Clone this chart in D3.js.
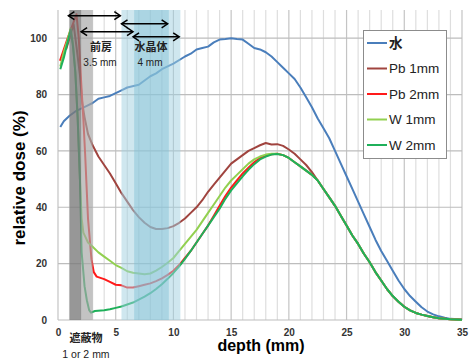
<!DOCTYPE html>
<html>
<head>
<meta charset="utf-8">
<script src="https://cdn.jsdelivr.net/npm/d3@7"></script>
<style>
  body { margin: 0; background: #fff; }
  svg text { font-family: "Liberation Sans", "Noto Sans CJK JP", sans-serif; }
</style>
</head>
<body>
<div id="chart"></div>
<script>
// depth (mm) / relative dose (%) pairs
const water = [
  [0.2,68.5],[0.5,70.5],[1,72.5],[1.5,74],[2,75],[2.5,76],[3,77],[3.5,78.5],[4,79],[4.5,79.5],
  [5,80.5],[5.5,81.5],[6,82.5],[7,83.5],[7.5,85],[8,86.5],[8.5,87.5],[9,89],[10,91],[11,93.5],
  [11.5,94.5],[12,96],[12.5,96.5],[13,97],[13.5,98.5],[14,99.5],[14.5,99.7],[15,100],[15.5,99.7],
  [16,99.5],[16.5,98],[17,96.5],[17.5,96],[18,95],[18.5,93.5],[19,91.5],[19.5,89.5],[20,87.5],
  [20.5,85.5],[21,82.5],[21.5,79],[22,75.5],[22.5,71.5],[23,68],[23.5,64.5],[24,60],[24.5,55.5],
  [25,51],[25.5,46.5],[26,42],[26.5,37.5],[27,33],[27.5,28.5],[28,24.5],[28.5,21],[29,17.5],
  [29.5,14],[30,11],[30.5,8.5],[31,6.5],[31.5,4.5],[32,3],[32.5,2],[33,1.3],[33.5,0.8],[34,0.4],[35,0.2]
];
// common fall-off of the four shielded curves beyond the peak
const tail = [
  [22.5,49.5],[23,46.5],[23.5,43.5],[24,40.5],[24.5,37],[25,33.5],[25.5,30],[26,27],[26.5,23.5],
  [27,20.5],[27.5,17],[28,14],[28.5,11],[29,8.5],[29.5,6.5],[30,4.7],[30.5,3.4],[31,2.5],
  [31.5,1.9],[32,1.4],[32.5,1],[33,0.6],[34,0.25],[35,0.1]
];
const pb1 = [
  [0.7,96],[1,100],[1.35,105],[1.6,97],[1.9,87],[2.1,77],[2.3,72],[2.6,66],[3,62],[3.5,58],[4,55],
  [4.5,52],[5,48.5],[5.5,45],[6,42],[6.5,39],[7,36.5],[7.5,34.5],[8,33],[8.5,32.3],[9,32.3],
  [9.5,32.6],[10,33.3],[10.5,34.5],[11,36],[11.5,38],[12,40],[12.5,42.5],[13,45.5],[13.5,48],
  [14,50.5],[14.5,53],[15,55.5],[15.5,57],[16,58.5],[16.5,60],[17,61],[17.5,62],[18,62.8],
  [18.5,62.3],[19,62.4],[19.5,61.8],[20,60.5],[20.5,59],[21,57],[21.5,55],[22,52.5]
].concat(tail);
const pb2 = [
  [0.17,92],[0.5,96],[0.84,100],[1.2,104],[1.6,108.5],[1.8,100],[2,85],[2.2,71],[2.35,59],
  [2.6,36],[2.9,21.5],[3.1,17],[3.35,15.4],[4,14.5],[4.5,13.5],[5,12.5],[5.5,12.3],[6,11.5],
  [6.5,11.5],[7,12],[7.5,12.5],[8,13],[8.5,13.8],[9,14.8],[9.5,16],[10,17.5],[10.5,19.5],[11,22],
  [11.5,24.5],[12,27.5],[12.5,30.5],[13,33.5],[13.5,37],[14,40.5],[14.5,44],[15,47],[15.5,49.5],
  [16,52],[16.5,54],[17,56],[17.5,57.5],[18,58.3],[18.5,58.8],[19,59],[19.5,58.5],[20,57.5],
  [20.5,56],[21,54.5],[21.5,53],[22,51.5]
].concat(tail);
const w1 = [
  [0.2,90],[0.5,95],[0.8,99],[1.1,103.5],[1.3,98],[1.5,88],[1.7,72],[1.9,50],[2.05,36],[2.2,31],
  [2.6,27.5],[3,26],[3.5,24],[4,22.5],[4.5,21],[5,19.5],[5.5,18.5],[6,17.3],[6.5,16.8],[7,16.5],
  [7.5,16.2],[8,16.5],[8.5,17.5],[9,18.8],[9.5,20.3],[10,22],[10.5,24.5],[11,27],[11.5,29.5],
  [12,32],[12.5,35],[13,38],[13.5,41],[14,44],[14.5,47],[15,49.5],[15.5,51.5],[16,53.5],
  [16.5,55.5],[17,57],[17.5,58],[18,58.7],[18.5,59],[19,59],[19.5,58.5],[20,57.5],[20.5,56],
  [21,54.5],[21.5,53],[22,51.5]
].concat(tail);
const w2 = [
  [0.2,89],[0.5,93],[0.8,98],[1.1,103],[1.3,97],[1.5,88],[1.7,72],[1.9,50],[2.05,24],[2.3,12],
  [2.5,7],[2.7,3.5],[2.86,2.6],[3.2,3.2],[4,3.5],[4.5,3.8],[5,4.3],[5.5,4.8],[6,5.5],[6.5,6.2],
  [7,7.2],[7.5,8.3],[8,9.5],[8.5,11],[9,12.7],[9.5,14.6],[10,16.7],[10.5,19],[11,21.7],[11.5,24.5],
  [12,27.5],[12.5,30.5],[13,33.5],[13.5,36.5],[14,39.5],[14.5,43],[15,46],[15.5,48.5],[16,51],
  [16.5,53.3],[17,55.3],[17.5,57],[18,58],[18.5,58.7],[19,58.9],[19.5,58.5],[20,57.5],[20.5,56],
  [21,54.5],[21.5,53],[22,51.5]
].concat(tail);

const seriesNames  = ["水", "Pb 1mm", "Pb 2mm", "W 1mm", "W 2mm"];
const seriesData   = [water, pb1, pb2, w1, w2];
const seriesColors = ["#4a7ebb", "#a0443f", "#ff1a1a", "#92d050", "#1fb05a"];

const xTicks = [0, 5, 10, 15, 20, 25, 30, 35];
const yTicks = [0, 20, 40, 60, 80, 100];

// shaded depth ranges (mm)
const shieldDark  = [1, 2];
const shieldLight = [2, 3];
const lensOuter   = [5.5, 10.6];
const lensInner   = [6.6, 9.6];
// thickness arrows: [from mm, to mm, dose level]
const arrows = [[0.9, 5.4, 108], [2, 6.5, 102.3], [5.5, 9.5, 105.1], [6.5, 10.5, 100.5]];

const WIDTH = 469, HEIGHT = 360;
const MARGIN = { top: 10, right: 7, bottom: 40, left: 58 };

const svg = d3.select("#chart").append("svg")
  .attr("width", WIDTH)
  .attr("height", HEIGHT);

const x = d3.scaleLinear().domain([0, 35]).range([MARGIN.left, WIDTH - MARGIN.right]);
const y = d3.scaleLinear().domain([0, 110]).range([HEIGHT - MARGIN.bottom, MARGIN.top]);

// vertical grid, every mm
svg.append("g")
  .selectAll("line")
  .data(d3.range(0, 36))
  .join("line")
  .attr("x1", d => x(d)).attr("x2", d => x(d))
  .attr("y1", y(0)).attr("y2", y(110))
  .attr("stroke", d => d % 5 === 0 ? "#c4c4c4" : "#dedede")
  .attr("stroke-width", 1.2);

// horizontal grid
svg.append("g")
  .selectAll("line")
  .data(yTicks)
  .join("line")
  .attr("x1", x(0)).attr("x2", x(35))
  .attr("y1", d => y(d)).attr("y2", d => y(d))
  .attr("stroke", "#bdbdbd")
  .attr("stroke-width", 1.2);

// curves
const line = d3.line()
  .x(d => x(d[0]))
  .y(d => y(d[1]))
  .curve(d3.curveLinear);

seriesData.forEach((s, i) => {
  svg.append("path")
    .attr("fill", "none")
    .attr("stroke", seriesColors[i])
    .attr("stroke-width", 2)
    .attr("stroke-linejoin", "round")
    .attr("d", line(s));
});

// shaded bands on top (semi transparent)
function band(r, fill, op) {
  svg.append("rect")
    .attr("x", x(r[0]))
    .attr("y", y(110))
    .attr("width", x(r[1]) - x(r[0]))
    .attr("height", y(0) - y(110))
    .attr("fill", fill)
    .attr("fill-opacity", op);
}
band(lensOuter, "#9fd0e0", 0.5);
band(lensInner, "#7fbfd4", 0.45);
band(shieldDark, "#7a7a7a", 0.78);
band(shieldLight, "#a6a6a6", 0.68);

// x tick labels
svg.append("g")
  .attr("transform", "translate(0," + y(0) + ")")
  .call(d3.axisBottom(x).tickValues(xTicks).tickSize(0).tickPadding(9))
  .call(g => g.select(".domain").remove())
  .selectAll("text")
  .style("font-size", "10px")
  .style("font-weight", "bold")
  .attr("fill", "#333");

// y tick labels
svg.append("g")
  .attr("transform", "translate(" + (x(0) - 10) + ",0)")
  .call(d3.axisLeft(y).tickValues(yTicks).tickSize(0).tickPadding(1))
  .call(g => g.select(".domain").remove())
  .selectAll("text")
  .style("font-size", "10px")
  .style("font-weight", "bold")
  .attr("fill", "#333");

// axis titles
svg.append("text")
  .attr("x", 261)
  .attr("y", 351)
  .attr("text-anchor", "middle")
  .style("font-size", "16px")
  .style("font-weight", "bold")
  .text("depth (mm)");

svg.append("text")
  .attr("transform", "translate(25,178) rotate(-90)")
  .attr("text-anchor", "middle")
  .style("font-size", "17px")
  .style("font-weight", "bold")
  .text("relative dose (%)");

// arrows
arrows.forEach(a => {
  const x1 = x(a[0]), x2 = x(a[1]), yy = y(a[2]);
  const g = svg.append("g").attr("stroke", "#000").attr("stroke-width", 1.5).attr("fill", "none");
  g.append("line").attr("x1", x1).attr("x2", x2).attr("y1", yy).attr("y2", yy);
  g.append("polyline").attr("points", `${x1 + 6},${yy - 4} ${x1},${yy} ${x1 + 6},${yy + 4}`);
  g.append("polyline").attr("points", `${x2 - 6},${yy - 4} ${x2},${yy} ${x2 - 6},${yy + 4}`);
});

// annotations
function note(txt, cx, cy, size, weight) {
  svg.append("text")
    .attr("x", cx).attr("y", cy)
    .attr("text-anchor", "middle")
    .attr("dominant-baseline", "central")
    .style("font-size", size)
    .style("font-weight", weight)
    .attr("fill", "#222")
    .text(txt);
}
note("前房", 101, 47, "11px", "bold");
note("3.5 mm", 100, 62, "10px", "normal");
note("水晶体", 151, 47, "11px", "bold");
note("4 mm", 150, 62, "10px", "normal");
note("遮蔽物", 86, 338, "11px", "bold");
note("1 or 2 mm", 86, 354, "10.5px", "normal");

// legend
const legend = svg.append("g");
legend.append("rect")
  .attr("x", 363.5).attr("y", 30.5)
  .attr("width", 83).attr("height", 128)
  .attr("fill", "#fff")
  .attr("stroke", "#8c8c8c");
seriesNames.forEach((n, i) => {
  const ly = 43 + i * 25.5;
  legend.append("line")
    .attr("x1", 367).attr("x2", 387)
    .attr("y1", ly).attr("y2", ly)
    .attr("stroke", seriesColors[i])
    .attr("stroke-width", 2);
  legend.append("text")
    .attr("x", 389).attr("y", ly)
    .attr("dominant-baseline", "central")
    .style("font-size", "13.5px")
    .style("font-weight", i === 0 ? "bold" : "normal")
    .attr("fill", "#222")
    .text(n);
});
</script>
</body>
</html>
